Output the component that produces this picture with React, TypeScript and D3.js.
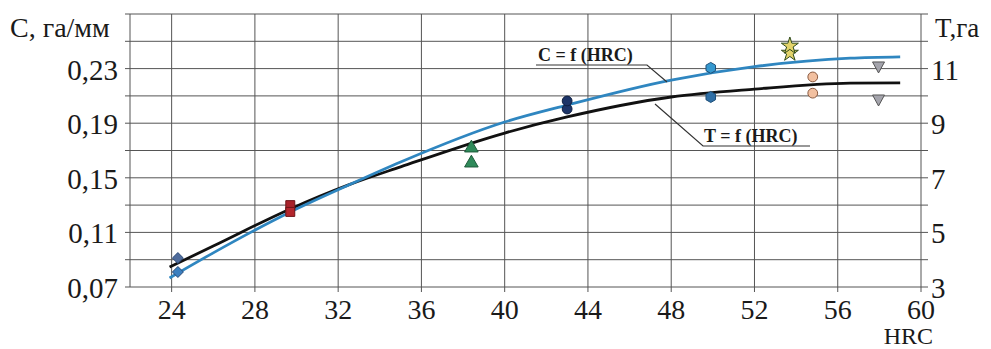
import React from "react";
import * as d3 from "d3";

// ---- data ----
const hrcTicks = [24, 28, 32, 36, 40, 44, 48, 52, 56, 60];
const cTicks = [0.07, 0.11, 0.15, 0.19, 0.23];
const tTicks = [3, 5, 7, 9, 11];
const cGrid = [0.07, 0.09, 0.11, 0.13, 0.15, 0.17, 0.19, 0.21, 0.23, 0.25, 0.27];

// fitted curve C = f(HRC)
const cCurveHRC = [23.9, 26, 29.7, 32.5, 35, 40, 43, 48, 52, 56.6, 59];
const cCurveVal = [0.0766, 0.095, 0.125, 0.1447, 0.1616, 0.1909, 0.2033, 0.2216, 0.2314, 0.2376, 0.2386];
// fitted curve T = f(HRC)
const tCurveHRC = [23.9, 26, 29.7, 32.5, 35, 40, 43, 48, 52, 56.6, 59];
const tCurveVal = [3.73, 4.5, 5.86, 6.74, 7.4, 8.64, 9.23, 9.96, 10.25, 10.47, 10.48];

// experimental points
const pointHRC = [24.3, 29.7, 38.4, 43, 49.9, 53.7, 54.8, 57.96];
const pointC = [0.081, 0.125, 0.1718, 0.2063, 0.2305, 0.2466, 0.2239, 0.2312];
const pointT = [4.06, 6.0, 7.54, 9.52, 9.96, 11.57, 10.1, 9.85];
const pointShape = ["diamond", "square", "triangle", "circle", "hexagon", "star", "circle", "down"];
const pointFillC = ["#3b7fbf", "#b3262d", "#2f8a5a", "#1c3468", "#3598cf", "#e3d36a", "#f2c0a0", "#a4a4ac"];
const pointFillT = ["#4f6c9c", "#a8222a", "#2f8a5a", "#1c3468", "#2f6fa6", "#e3d36a", "#f2c0a0", "#a4a4ac"];
const pointStroke = ["#2c4a78", "#6e1418", "#1d5a3a", "#0e1e40", "#1d4f78", "#2e4a1a", "#8a5a40", "#555"];

const W = 991;
const H = 349;
const x = d3.scaleLinear().domain([22, 60]).range([130, 921]);
const yC = d3.scaleLinear().domain([0.07, 0.27]).range([287, 14]);
const yT = d3.scaleLinear().domain([3, 13]).range([287, 14]);

function symbolPath(shape: string): string {
  const map: Record<string, any> = {
    square: d3.symbolSquare,
    triangle: d3.symbolTriangle,
    circle: d3.symbolCircle,
    star: d3.symbolStar,
  };
  if (shape === "hexagon") {
    const r = 5.5;
    const pts = d3.range(6).map((i) => {
      const a = (Math.PI / 3) * i + Math.PI / 6;
      return [r * Math.cos(a), r * Math.sin(a)];
    });
    return "M" + pts.map((p) => p.join(",")).join("L") + "Z";
  }
  if (shape === "diamond") {
    return "M0,-5.5L5.5,0L0,5.5L-5.5,0Z";
  }
  if (shape === "down") {
    return "M-6,-5L6,-5L0,6Z";
  }
  const size = shape === "star" ? 90 : shape === "triangle" ? 80 : shape === "square" ? 80 : 75;
  return d3.symbol().type(map[shape]).size(size)() || "";
}

const serif = '"Liberation Serif", "DejaVu Serif", "Times New Roman", serif';

export default function App() {
  const cLine = d3
    .line<number>()
    .x((_, i) => x(cCurveHRC[i]))
    .y((d) => yC(d))
    .curve(d3.curveMonotoneX)(cCurveVal) || "";
  const tLine = d3
    .line<number>()
    .x((_, i) => x(tCurveHRC[i]))
    .y((d) => yT(d))
    .curve(d3.curveMonotoneX)(tCurveVal) || "";

  const x0 = x(22);
  const x1 = x(60);
  const ts = { fontFamily: serif };
  return (
    <svg
      width={W}
      height={H}
      style={{ position: "absolute", left: 0, top: 0, background: "#fff", fontFamily: serif }}
    >
      {/* horizontal grid */}
      {cGrid.map((v) => (
        <line key={"h" + v} x1={x0 - 5} x2={x1 + 7} y1={yC(v)} y2={yC(v)} stroke="#555" strokeWidth={1} />
      ))}
      {/* vertical grid */}
      {[22, ...hrcTicks].map((v) => (
        <line key={"v" + v} x1={x(v)} x2={x(v)} y1={yC(0.27)} y2={yC(0.07) + (v === 22 ? 0 : 5)} stroke="#555" strokeWidth={1} />
      ))}
      {/* tick labels */}
      {cTicks.map((v) => (
        <text key={"c" + v} x={118} y={yC(v) + 11} textAnchor="end" fontSize={29} fill="#1a1a1a" style={ts}>
          {v.toFixed(2).replace(".", ",")}
        </text>
      ))}
      {tTicks.map((v) => (
        <text key={"t" + v} x={931} y={yT(v) + 11} textAnchor="start" fontSize={29} fill="#1a1a1a" style={ts}>
          {v}
        </text>
      ))}
      {hrcTicks.map((v) => (
        <text key={"x" + v} x={x(v)} y={319} textAnchor="middle" fontSize={28} fill="#1a1a1a" style={ts}>
          {v}
        </text>
      ))}
      <text x={10} y={37} fontSize={28} fill="#1a1a1a" style={ts}>С, га/мм</text>
      <text x={935} y={37} fontSize={27} fill="#1a1a1a" style={ts}>T,га</text>
      <text x={933} y={344} textAnchor="end" fontSize={24} fill="#1a1a1a" style={ts}>HRC</text>

      {/* curves */}
      <path d={tLine} fill="none" stroke="#111" strokeWidth={2.8} />
      <path d={cLine} fill="none" stroke="#2f86c0" strokeWidth={2.8} />

      {/* curve labels with leaders */}
      <polyline points="536,65 647,65 667,82" fill="none" stroke="#333" strokeWidth={1.2} />
      <text x={538} y={61} fontSize={18} fontWeight="bold" fill="#1a1a1a" style={ts}>C = f (HRC)</text>
      <polyline points="655,104 703,146 810,146" fill="none" stroke="#333" strokeWidth={1.2} />
      <text x={704} y={142} fontSize={18} fontWeight="bold" fill="#1a1a1a" style={ts}>T = f (HRC)</text>

      {/* points */}
      {pointHRC.map((h, i) => (
        <g key={"p" + i}>
          <path
            d={symbolPath(pointShape[i])}
            transform={`translate(${x(h)},${yT(pointT[i])})`}
            fill={pointFillT[i]}
            stroke={pointStroke[i]}
            strokeWidth={1}
          />
          <path
            d={symbolPath(pointShape[i])}
            transform={`translate(${x(h)},${yC(pointC[i])})`}
            fill={pointFillC[i]}
            stroke={pointStroke[i]}
            strokeWidth={1}
          />
        </g>
      ))}
    </svg>
  );
}
